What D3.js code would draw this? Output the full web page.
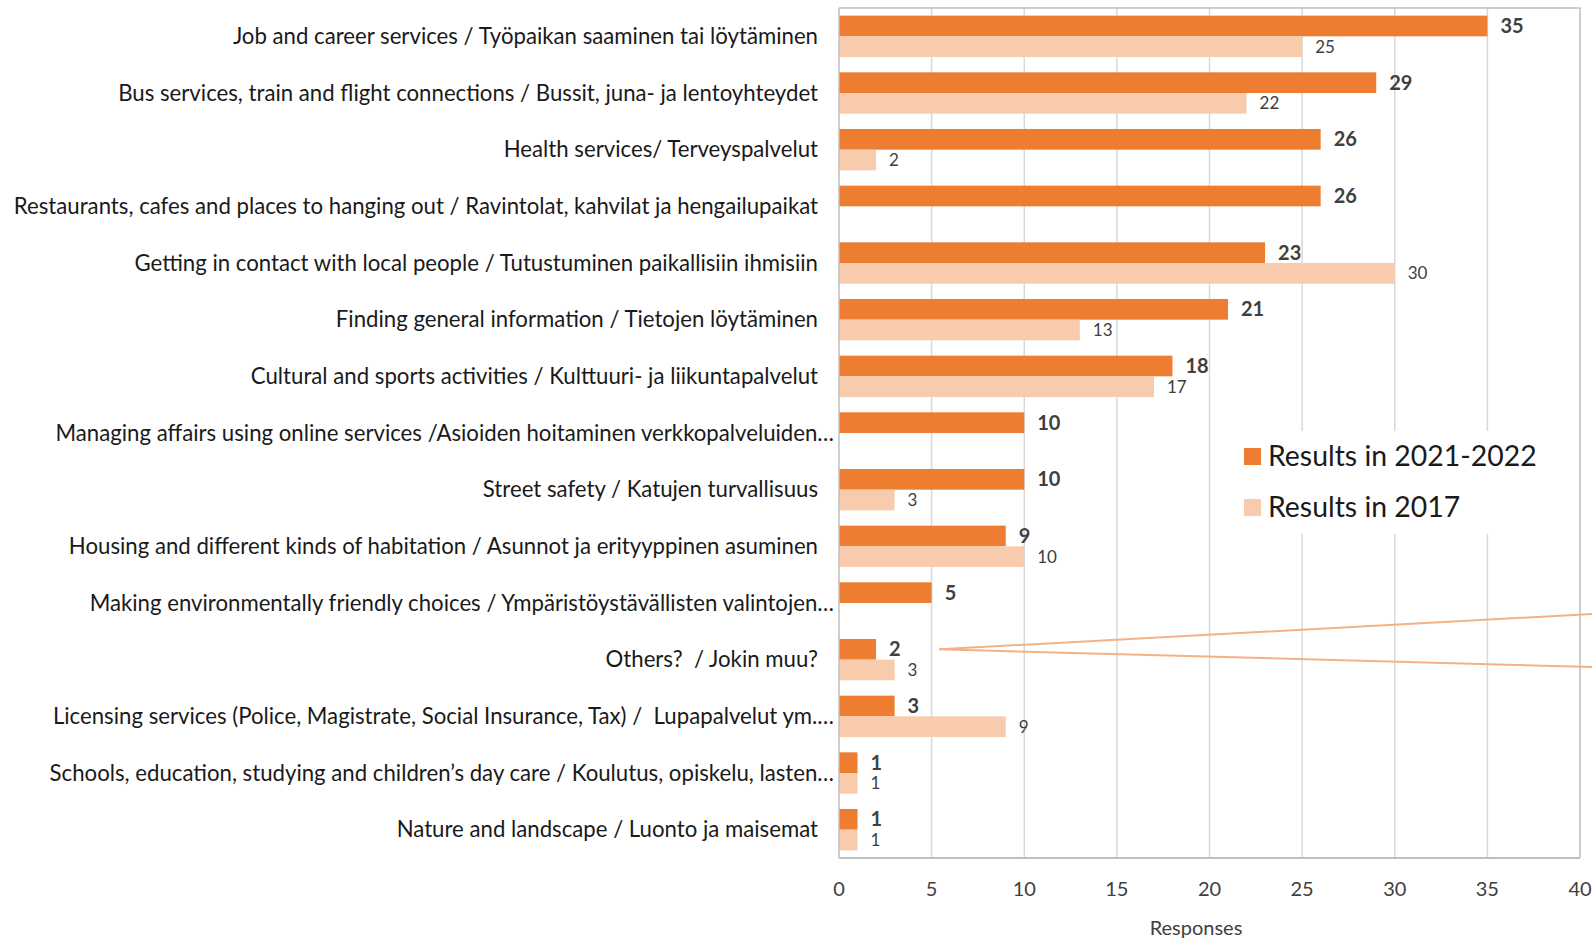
<!DOCTYPE html>
<html><head><meta charset="utf-8">
<script src="https://cdn.jsdelivr.net/npm/d3@7"></script>
<style>body{margin:0;background:#fff;} text{font-family:Lato,"Open Sans",sans-serif;}</style>
</head><body><svg id="c" width="1592" height="940"></svg>
<script>
const categories = [
 "Job and career services / Työpaikan saaminen tai löytäminen",
 "Bus services, train and flight connections / Bussit, juna- ja lentoyhteydet",
 "Health services/ Terveyspalvelut",
 "Restaurants, cafes and places to hanging out / Ravintolat, kahvilat ja hengailupaikat",
 "Getting in contact with local people / Tutustuminen paikallisiin ihmisiin",
 "Finding general information / Tietojen löytäminen",
 "Cultural and sports activities / Kulttuuri- ja liikuntapalvelut",
 "Managing affairs using online services /Asioiden hoitaminen verkkopalveluiden…",
 "Street safety / Katujen turvallisuus",
 "Housing and different kinds of habitation / Asunnot ja erityyppinen asuminen",
 "Making environmentally friendly choices / Ympäristöystävällisten valintojen…",
 "Others?  / Jokin muu?",
 "Licensing services (Police, Magistrate, Social Insurance, Tax) /  Lupapalvelut ym.…",
 "Schools, education, studying and children’s day care / Koulutus, opiskelu, lasten…",
 "Nature and landscape / Luonto ja maisemat"
];
const results2022 = [35,29,26,26,23,21,18,10,10,9,5,2,3,1,1];
const results2017 = [25,22,2,null,30,13,17,null,3,10,null,3,9,1,1];
const seriesNames = ["Results in 2021-2022","Results in 2017"];
const xTicks = [0,5,10,15,20,25,30,35,40];
const axisTitle = "Responses";

const colors = ["#ed7d31","#f8cbad"];
const svg = d3.select("#c");
const L=839, R=1580, T=8, B=858;
const x = d3.scaleLinear().domain([0,40]).range([L,R]);
const y = d3.scaleBand().domain(categories).range([T,B]).paddingInner(0.27).paddingOuter(0.135);
const sub = d3.scaleBand().domain([0,1]).range([0,y.bandwidth()]);

// gridlines
svg.append("g").selectAll("line").data(xTicks.filter(d=>d>0&&d<40)).join("line")
 .attr("x1",d=>x(d)).attr("x2",d=>x(d)).attr("y1",T).attr("y2",B)
 .attr("stroke","#d9d9d9").attr("stroke-width",1.5);
// border top/right
svg.append("path").attr("d",`M${L},${T}H${R}V${B}`).attr("fill","none").attr("stroke","#bfbfbf").attr("stroke-width",1.5);

// bars
const series=[results2022,results2017];
series.forEach((vals,si)=>{
  const g=svg.append("g");
  const data=categories.map((c,i)=>({c,v:vals[i]})).filter(d=>d.v!=null);
  g.selectAll("rect").data(data).join("rect")
   .attr("x",x(0)).attr("y",d=>y(d.c)+sub(si)).attr("width",d=>x(d.v)-x(0)).attr("height",sub.bandwidth())
   .attr("fill",colors[si]);
  g.selectAll("text").data(data).join("text")
   .attr("x",d=>x(d.v)+13).attr("y",d=>y(d.c)+sub(si)+sub.bandwidth()/2)
   .attr("dy","0.35em")
   .attr("font-size",si?17:20).attr("font-weight",si?400:700)
   .attr("fill","#404040").text(d=>d.v);
});

// axes lines
svg.append("line").attr("x1",L).attr("x2",L).attr("y1",T).attr("y2",B).attr("stroke","#bfbfbf").attr("stroke-width",1.5);
svg.append("line").attr("x1",L).attr("x2",R).attr("y1",B).attr("y2",B).attr("stroke","#bfbfbf").attr("stroke-width",2);

// x tick labels
svg.append("g").selectAll("text").data(xTicks).join("text")
 .attr("x",d=>x(d)).attr("y",896).attr("text-anchor","middle").attr("font-size",20).attr("fill","#404040").text(d=>d);
svg.append("text").attr("x",1196).attr("y",935).attr("text-anchor","middle").attr("font-size",20).attr("fill","#404040").text(axisTitle);

// category labels
svg.append("g").selectAll("text").data(categories).join("text")
 .attr("x",d=>d.endsWith("…")?834:818).attr("y",d=>y(d)+y.bandwidth()/2)
 .attr("dy","0.35em").attr("text-anchor","end").attr("font-size",22.2).attr("fill","#1a1a1a")
 .style("white-space","pre").text(d=>d);

// legend
const lg=svg.append("g");
lg.append("rect").attr("x",1228).attr("y",431).attr("width",318).attr("height",103).attr("fill","#fff");
seriesNames.forEach((n,i)=>{
  lg.append("rect").attr("x",1244).attr("y",448+i*51).attr("width",17).attr("height",17).attr("fill",colors[i]);
  lg.append("text").attr("x",1268).attr("y",456+i*51).attr("dy","0.35em").attr("font-size",28.4).attr("fill","#1a1a1a").text(n);
});

// callout lines
const apex=[x(5.4), y(categories[11])+sub(0)+sub.bandwidth()/2];
svg.append("path").attr("d",`M1592,614L${apex[0]},${apex[1]}L1592,667`)
 .attr("fill","none").attr("stroke","#f4b183").attr("stroke-width",2);
</script></body></html>
